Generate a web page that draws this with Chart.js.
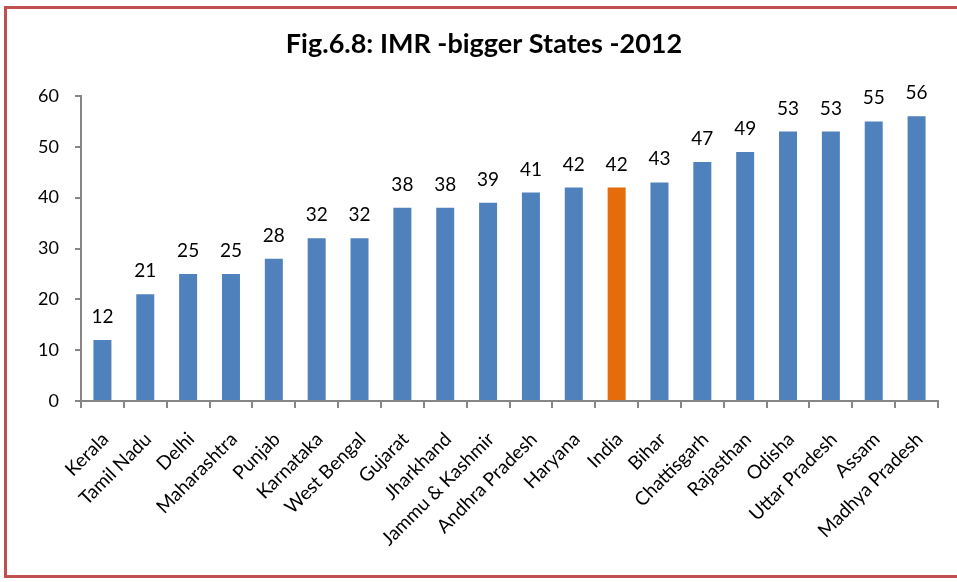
<!DOCTYPE html>
<html>
<head>
<meta charset="utf-8">
<script src="https://cdn.jsdelivr.net/npm/chart.js@4.4.0/dist/chart.umd.min.js"></script>
<style>
  html, body { margin: 0; padding: 0; background: #fff; overflow: hidden; }
  #wrap { position: relative; width: 957px; height: 582px; }
  #frame { position: absolute; left: 4px; top: 6px; width: 1000px; height: 572px; border: 3px solid #c0504d; box-sizing: border-box; pointer-events: none; }
  canvas { position: absolute; left: 0; top: 0; }
</style>
</head>
<body>
<div id="wrap">
  <canvas id="imrChart" width="957" height="582"></canvas>
  <div id="frame"></div>
</div>
<script>
var states = ["Kerala", "Tamil Nadu", "Delhi", "Maharashtra", "Punjab", "Karnataka", "West Bengal",
  "Gujarat", "Jharkhand", "Jammu & Kashmir", "Andhra Pradesh", "Haryana", "India", "Bihar",
  "Chattisgarh", "Rajasthan", "Odisha", "Uttar Pradesh", "Assam", "Madhya Pradesh"];
var imr = [12, 21, 25, 25, 28, 32, 32, 38, 38, 39, 41, 42, 42, 43, 47, 49, 53, 53, 55, 56];
var yTicks = [0, 10, 20, 30, 40, 50, 60];

var FONT = "Lato, 'Open Sans', sans-serif";

var colors = [];
for (var i = 0; i < states.length; i++) {
  colors.push(states[i] === "India" ? "#e46c0a" : "#4f81bd");
}

// values above the bars
var valueLabels = {
  id: 'valueLabels',
  afterDatasetsDraw: function(chart) {
    var ctx = chart.ctx;
    var meta = chart.getDatasetMeta(0);
    ctx.save();
    ctx.fillStyle = '#000';
    ctx.font = '19px ' + FONT;
    ctx.textAlign = 'center';
    ctx.textBaseline = 'alphabetic';
    meta.data.forEach(function(bar, idx) {
      ctx.fillText(imr[idx], bar.x, bar.y - 17);
    });
    ctx.restore();
  }
};

var ctx = document.getElementById('imrChart');
var imrChart = new Chart(ctx, {
  type: 'bar',
  data: {
    labels: states,
    datasets: [{
      data: imr,
      backgroundColor: colors,
      borderColor: colors,
      borderWidth: 0,
      barPercentage: 0.42,
      categoryPercentage: 1.0
    }]
  },
  options: {
    responsive: false,
    animation: false,
    layout: { padding: { left: 30, right: 19, top: 0, bottom: 0 } },
    plugins: {
      legend: { display: false },
      tooltip: { enabled: false },
      title: {
        display: true,
        text: 'Fig.6.8: IMR -bigger States -2012',
        color: '#000',
        font: { family: FONT, size: 27, weight: 'bold', lineHeight: 1.2 },
        padding: { top: 27.8, bottom: 35.8 }
      }
    },
    scales: {
      x: {
        grid: { display: true, drawOnChartArea: false, offset: true, color: '#868686', tickLength: 7, lineWidth: 2 },
        border: { color: '#868686', width: 2 },
        ticks: { color: '#000', font: { family: FONT, size: 19 }, maxRotation: 45, minRotation: 45, autoSkip: false, padding: 20, labelOffset: 3 },
        afterFit: function(scale) { scale.height = 181; }
      },
      y: {
        min: 0,
        max: 60,
        afterBuildTicks: function(scale) {
          scale.ticks = yTicks.map(function(v) { return { value: v }; });
        },
        grid: { display: true, drawOnChartArea: false, color: '#868686', tickLength: 6, lineWidth: 2 },
        border: { color: '#868686', width: 2 },
        ticks: { color: '#000', font: { family: FONT, size: 18 }, padding: 16 },
        afterFit: function(scale) { scale.width = 51; }
      }
    }
  },
  plugins: [valueLabels]
});
</script>
</body>
</html>
